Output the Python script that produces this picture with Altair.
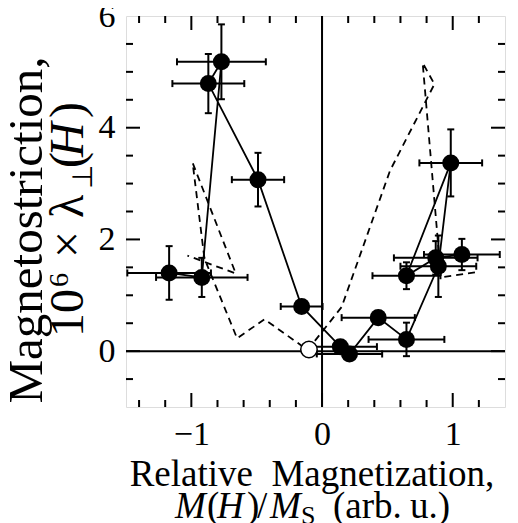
import altair as alt
import pandas as pd

# ---- data ----
mx = [-1.17, -0.92, -0.77, -0.87, -0.49, -0.156, 0.14, 0.21, 0.43, 0.646, 0.89, 0.985, 0.646, 0.87, 1.07]
my = [1.40, 1.32, 5.18, 4.79, 3.07, 0.80, 0.08, -0.05, 0.60, 0.21, 1.52, 3.37, 1.35, 1.67, 1.73]
xerr = [0.32, 0.35, 0.34, 0.275, 0.20, 0.16, 0.28, 0.25, 0.28, 0.29, 0.29, 0.24, 0.26, 0.32, 0.29]
yerr = [0.48, 0.35, 0.67, 0.53, 0.48, 0.10, 0.05, 0.05, 0.05, 0.30, 0.55, 0.60, 0.24, 0.30, 0.28]

open_x = [-0.10]
open_y = [0.03]

dash_x = [1.17, 0.91, 0.77, 0.86, 0.52, 0.15, -0.11, -0.44, -0.65, -0.90, -0.99, -0.66, -1.03]
dash_y = [1.41, 1.32, 5.16, 4.78, 3.23, 0.79, 0.02, 0.57, 0.23, 1.66, 3.37, 1.39, 1.71]

x_major = [-1, 0, 1]
x_minor = [-1.4, -1.2, -0.8, -0.6, -0.4, -0.2, 0.2, 0.4, 0.6, 0.8, 1.2]
y_major = [0, 2, 4]
y_minor = [-0.5, 0.5, 1, 1.5, 2.5, 3, 3.5, 4.5, 5, 5.5]
x_labels = [-1, 0, 1]
y_labels = [0, 2, 4, 6]

W, H = 379, 391
FONT = "Liberation Serif"

pts = pd.DataFrame({
    "i": list(range(len(mx))), "x": mx, "y": my,
    "xlo": [a - b for a, b in zip(mx, xerr)], "xhi": [a + b for a, b in zip(mx, xerr)],
    "ylo": [a - b for a, b in zip(my, yerr)], "yhi": [a + b for a, b in zip(my, yerr)],
})
dash = pd.DataFrame({"i": list(range(len(dash_x))), "x": dash_x, "y": dash_y})
opn = pd.DataFrame({"x": open_x, "y": open_y})

xs = alt.Scale(domain=[-1.5, 1.4], nice=False, zero=False)
ys = alt.Scale(domain=[-1, 6], nice=False, zero=False)

X = alt.X("x:Q", scale=xs, axis=alt.Axis(values=x_labels, format="d", ticks=False, domain=False,
                                          grid=False, labelFont=FONT, labelFontSize=34,
                                          labelColor="black", labelPadding=10, title=None))
Y = alt.Y("y:Q", scale=ys, axis=alt.Axis(values=y_labels, format="d", ticks=False, domain=False,
                                          grid=False, labelFont=FONT, labelFontSize=34,
                                          labelColor="black", labelPadding=11, title=None))

base = alt.Chart(pts)

dashed = alt.Chart(dash).mark_line(color="black", strokeWidth=1.8, strokeDash=[7, 5]).encode(
    x=X, y=Y, order="i:Q")

zero_v = alt.Chart(pd.DataFrame({"v": [0]})).mark_rule(color="black", strokeWidth=2).encode(
    x=alt.X("v:Q", scale=xs), y=alt.value(0), y2=alt.value(H))
zero_h = alt.Chart(pd.DataFrame({"v": [0]})).mark_rule(color="black", strokeWidth=2).encode(
    y=alt.Y("v:Q", scale=ys), x=alt.value(0), x2=alt.value(W))

solid = base.mark_line(color="black", strokeWidth=1.8).encode(x=X, y=Y, order="i:Q")

xbar = base.mark_rule(color="black", strokeWidth=2).encode(
    x=alt.X("xlo:Q", scale=xs), x2="xhi:Q", y=alt.Y("y:Q", scale=ys))
ybar = base.mark_rule(color="black", strokeWidth=2).encode(
    y=alt.Y("ylo:Q", scale=ys), y2="yhi:Q", x=alt.X("x:Q", scale=xs))
cap_l = base.mark_tick(color="black", orient="vertical", size=7, thickness=2, opacity=1).encode(
    x=alt.X("xlo:Q", scale=xs), y=alt.Y("y:Q", scale=ys))
cap_r = base.mark_tick(color="black", orient="vertical", size=7, thickness=2, opacity=1).encode(
    x=alt.X("xhi:Q", scale=xs), y=alt.Y("y:Q", scale=ys))
cap_b = base.mark_tick(color="black", orient="horizontal", size=7, thickness=2, opacity=1).encode(
    y=alt.Y("ylo:Q", scale=ys), x=alt.X("x:Q", scale=xs))
cap_t = base.mark_tick(color="black", orient="horizontal", size=7, thickness=2, opacity=1).encode(
    y=alt.Y("yhi:Q", scale=ys), x=alt.X("x:Q", scale=xs))

dots = base.mark_circle(color="black", size=290, opacity=1).encode(x=X, y=Y)
open_pt = alt.Chart(opn).mark_point(filled=True, fill="white", stroke="black", strokeWidth=1.5,
                                     size=270, opacity=1).encode(x=X, y=Y)

# inward ticks on all four sides
def xticks(vals, length):
    d = alt.Chart(pd.DataFrame({"v": vals}))
    bot = d.mark_rule(color="black", strokeWidth=2).encode(
        x=alt.X("v:Q", scale=xs), y=alt.value(H), y2=alt.value(H - length))
    top = d.mark_rule(color="black", strokeWidth=2).encode(
        x=alt.X("v:Q", scale=xs), y=alt.value(0), y2=alt.value(length))
    return [bot, top]

def yticks(vals, length):
    d = alt.Chart(pd.DataFrame({"v": vals}))
    left = d.mark_rule(color="black", strokeWidth=2).encode(
        y=alt.Y("v:Q", scale=ys), x=alt.value(0), x2=alt.value(length))
    right = d.mark_rule(color="black", strokeWidth=2).encode(
        y=alt.Y("v:Q", scale=ys), x=alt.value(W), x2=alt.value(W - length))
    return [left, right]

ticks = xticks(x_minor, 7) + xticks(x_major, 14) + yticks(y_minor, 7) + yticks(y_major, 14)

# titles (text pieces positioned in pixels relative to the plot origin at (126,16))
def txt(s, x, y, size, angle=0, align="left", style="normal", baseline="alphabetic"):
    kw = dict(font=FONT, fontSize=size, color="black", align=align, baseline=baseline,
              fontStyle=style, text=s)
    if angle:
        kw["angle"] = angle
    return alt.Chart(pd.DataFrame({"a": [0]})).mark_text(**kw).encode(
        x=alt.value(x), y=alt.value(y))

titles = [
    txt("Relative\u00a0 Magnetization,", 186, 470, 37, align="center"),
    txt("M", 49, 502, 37, style="italic"),
    txt("(", 81, 502, 37),
    txt("H", 91, 502, 37, style="italic"),
    txt(")", 121, 502, 37),
    txt("/", 131, 502, 37),
    txt("M", 144, 502, 37, style="italic"),
    txt("S", 175, 508, 26),
    txt("(arb.", 207, 502, 37),
    txt("u.)", 284, 502, 37),
    # y title
    txt("Magnetostriction,", -84, 214, 49, angle=270, align="center"),
    txt("10", -43, 321, 48, angle=270),
    txt("6", -58, 271, 28, angle=270),
    txt("\u00d7", -43, 242, 48, angle=270),
    txt("\u03bb", -43, 202, 48, angle=270),
    txt("\u22a5", -34, 173, 28, angle=270),
    txt("(", -43, 152, 48, angle=270),
    txt("H", -43, 141, 48, angle=270, style="italic"),
    txt(")", -43, 102, 48, angle=270),
]

chart = alt.layer(
    dashed, zero_v, zero_h, solid, xbar, ybar, cap_l, cap_r, cap_b, cap_t, dots, open_pt,
    *ticks, *titles
).properties(
    width=W, height=H,
    autosize=alt.AutoSizeParams(type="none"),
    padding={"left": 118, "top": 8, "right": 5, "bottom": 125},
).configure_view(stroke="black", strokeWidth=3).configure(background="white")

chart.save("out.html", embed_options={"renderer": "svg", "actions": False})
